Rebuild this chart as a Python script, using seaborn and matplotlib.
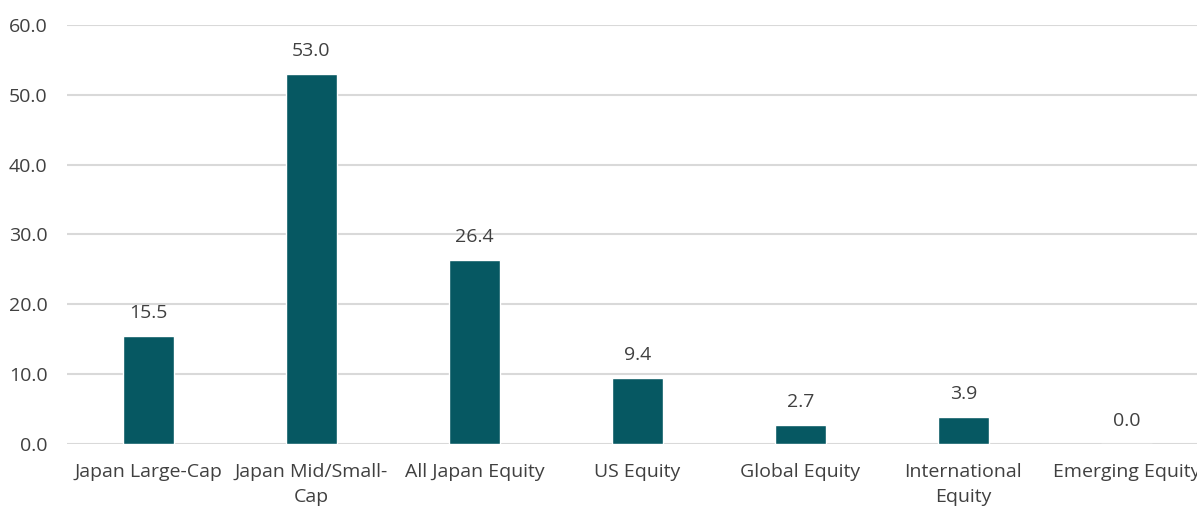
import matplotlib
matplotlib.use("Agg")
import matplotlib.pyplot as plt
import seaborn as sns
import pandas as pd

categories = ["Japan Large-Cap", "Japan Mid/Small-\nCap", "All Japan Equity",
              "US Equity", "Global Equity", "International\nEquity", "Emerging Equity"]
values = [15.5, 53.0, 26.4, 9.4, 2.7, 3.9, 0.0]
y_ticks = [0, 10, 20, 30, 40, 50, 60]

bar_color = "#065862"
text_color = "#404040"

sns.set_style("white")
plt.rcParams["font.family"] = ["Open Sans", "DejaVu Sans"]

df = pd.DataFrame({"category": categories, "value": values})

fig = plt.figure(figsize=(11.97, 5.08), dpi=100)
# axes runs a bit past the right edge, the last label is clipped in the original
ax = fig.add_axes([0.056, 0.126, 0.953, 0.825])

sns.barplot(data=df, x="category", y="value", color=bar_color,
            saturation=1, width=0.31, ax=ax)

for i, v in enumerate(values):
    ax.annotate(f"{v:.1f}", (i, v), xytext=(0, 10), textcoords="offset points",
                ha="center", va="bottom", fontsize=14, color=text_color)

ax.set_ylim(0, 60)
ax.set_xlim(-0.5, len(categories) - 0.5)
ax.set_yticks(y_ticks)
ax.set_yticklabels([f"{t:.1f}" for t in y_ticks])
ax.yaxis.grid(True, color="#d9d9d9", linewidth=1.5)
ax.set_axisbelow(True)
ax.tick_params(axis="both", length=0, labelsize=14, colors=text_color)
ax.tick_params(axis="x", pad=14)
ax.tick_params(axis="y", pad=14)
for lbl in ax.get_xticklabels():
    lbl.set_linespacing(1.45)
ax.set_xlabel("")
ax.set_ylabel("")
for s in ax.spines.values():
    s.set_visible(False)

fig.savefig("out.png", dpi=100)
